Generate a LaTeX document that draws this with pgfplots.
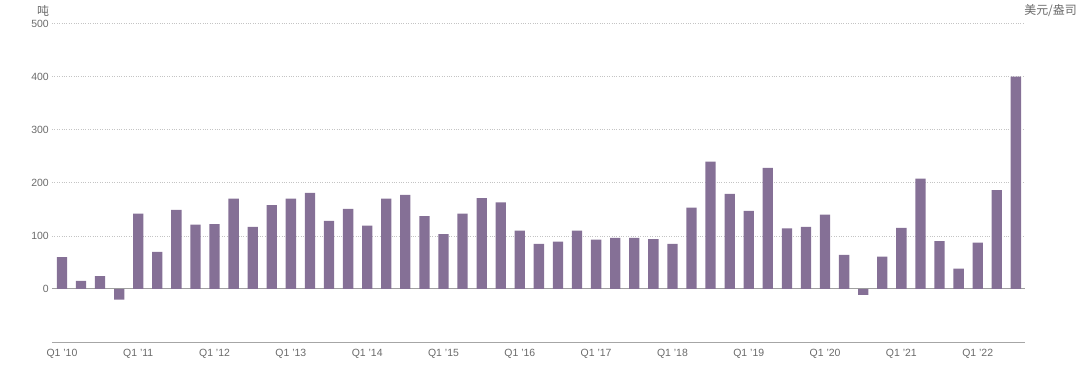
\documentclass[border=0pt]{standalone}
\usepackage{fontspec}
\setmainfont{Liberation Sans}
\newfontfamily\cjk{Noto Sans CJK SC}
\usepackage{pgfplots}
\pgfplotsset{compat=1.18}
\definecolor{barc}{HTML}{857096}
\definecolor{txt}{HTML}{6A6A6A}
\definecolor{gridc}{HTML}{C4C4C4}
\begin{document}
\begin{tikzpicture}
\begin{axis}[
  scale only axis, width=973bp, height=318.5bp,
  xmin=-0.52, xmax=50.48, ymin=-100, ymax=500,
  axis x line*=bottom, axis y line*=left,
  y axis line style={draw=none},
  x axis line style={draw=gray!70, line width=0.8bp},
  major tick length=0pt,
  ytick={100,200,300,400,500},
  extra y ticks={0},
  extra y tick style={grid style={solid, draw=gray!75, line width=1.1bp}},
  ymajorgrids,
  grid style={dotted, draw=gridc, line width=0.5bp},
  xtick={0,4,...,48},
  xticklabels={Q1 '10,Q1 '11,Q1 '12,Q1 '13,Q1 '14,Q1 '15,Q1 '16,Q1 '17,Q1 '18,Q1 '19,Q1 '20,Q1 '21,Q1 '22},
  tick label style={font=\fontsize{10.5}{12}\selectfont, text=txt, inner sep=0pt},
  yticklabel style={xshift=-3bp},
  xticklabel style={yshift=-7bp},
  /pgf/number format/assume math mode=true,
  clip=false,
]
\addplot[ybar, bar width=10.3bp, fill=barc, draw=none] coordinates {
(0,60) (1,15) (2,24) (3,-20)
(4,142) (5,70) (6,149) (7,121)
(8,122) (9,170) (10,117) (11,158)
(12,170) (13,181) (14,128) (15,151)
(16,119) (17,170) (18,177) (19,137)
(20,103) (21,142) (22,171) (23,163)
(24,110) (25,85) (26,89) (27,110)
(28,93) (29,96) (30,96) (31,94)
(32,85) (33,153) (34,240) (35,179)
(36,147) (37,228) (38,114) (39,117)
(40,140) (41,64) (42,-11) (43,61)
(44,115) (45,208) (46,90) (47,38)
(48,87) (49,186) (50,400)
};
\node[anchor=center, text=txt, font=\cjk\fontsize{12}{14}\selectfont] at ([xshift=-9bp,yshift=12.5bp]rel axis cs:0,1) {吨};
\node[anchor=east, text=txt, font=\cjk\fontsize{12}{14}\selectfont, inner sep=0pt] at ([xshift=52bp,yshift=12.5bp]rel axis cs:1,1) {美元/盎司};
\end{axis}
\pgfresetboundingbox
\useasboundingbox ([xshift=-52bp,yshift=-25bp]current axis.south west) rectangle ([xshift=1028bp,yshift=342bp]current axis.south west);
\end{tikzpicture}
\end{document}
